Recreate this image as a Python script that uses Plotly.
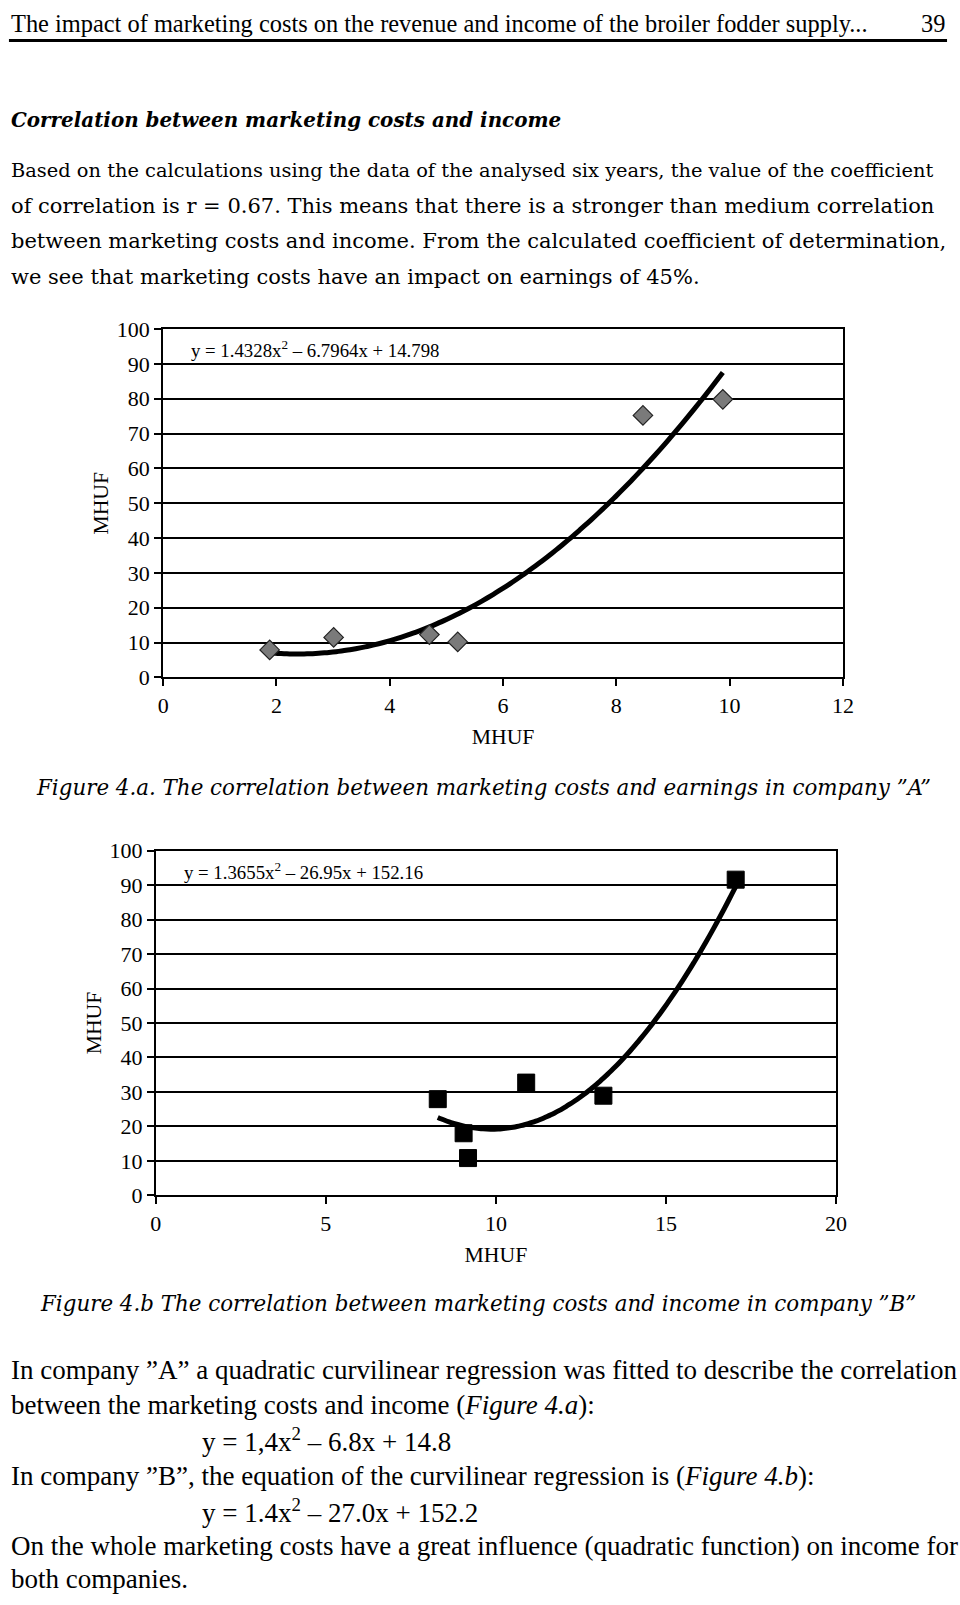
import numpy as np
import plotly.graph_objects as go

W, H = 960, 1605
SERIF = "Liberation Serif"
BOOK = "DejaVu Serif"

# ---- data ----
a_cost = [1.88, 3.01, 4.70, 5.20, 8.47, 9.88]
a_income = [7.9, 11.5, 12.3, 10.2, 75.2, 79.8]
a_coef = [1.4328, -6.7964, 14.798]
a_eq = "y = 1.4328x<sup>2</sup> – 6.7964x + 14.798"

b_cost = [8.29, 9.05, 9.18, 10.89, 13.16, 17.05]
b_income = [27.9, 18.0, 10.8, 32.7, 28.9, 91.6]
b_coef = [1.3655, -26.95, 152.16]
b_eq = "y = 1.3655x<sup>2</sup> – 26.95x + 152.16"

a_xticks = [0, 2, 4, 6, 8, 10, 12]
b_xticks = [0, 5, 10, 15, 20]
y_ticks = [0, 10, 20, 30, 40, 50, 60, 70, 80, 90, 100]

header = "The impact of marketing costs on the revenue and income of the broiler fodder supply..."
page_no = "39"
section_title = "Correlation between marketing costs and income"
para1 = [
    "Based on the calculations using the data of the analysed six years, the value of the coefficient",
    "of correlation is r = 0.67. This means that there is a stronger than medium correlation",
    "between marketing costs and income. From the calculated coefficient of determination,",
    "we see that marketing costs have an impact on earnings of 45%.",
]
para1_sizes = [19.4, 21, 21, 21]
cap_a = "Figure 4.a. The correlation between marketing costs and earnings in company ”A”"
cap_b = "Figure 4.b The correlation between marketing costs and income in company ”B”"
para2 = [
    (3, 1379, "In company ”A” a quadratic curvilinear regression was fitted to describe the correlation"),
    (3, 1415, "between the marketing costs and income (<i>Figure 4.a</i>):"),
    (197, 1451, "y = 1,4x<sup>2</sup> – 6.8x + 14.8"),
    (3, 1487, "In company ”B”, the equation of the curvilinear regression is (<i>Figure 4.b</i>):"),
    (197, 1523, "y = 1.4x<sup>2</sup> – 27.0x + 152.2"),
    (3, 1558, "On the whole marketing costs have a great influence (quadratic function) on income for"),
    (3, 1592, "both companies."),
]


def px(x):
    return x / W


def py(y):
    return 1 - y / H


fig = go.Figure()

# chart A
a_line_x = np.linspace(min(a_cost), max(a_cost), 80)
fig.add_trace(go.Scatter(x=a_line_x, y=np.polyval(a_coef, a_line_x), mode="lines",
                         line=dict(color="black", width=5, shape="spline"),
                         xaxis="x", yaxis="y", showlegend=False, hoverinfo="skip"))
fig.add_trace(go.Scatter(x=a_cost, y=a_income, mode="markers",
                         marker=dict(symbol="diamond", size=15, color="#7a7a7a",
                                     line=dict(color="#222222", width=1.2)),
                         xaxis="x", yaxis="y", showlegend=False))

# chart B
b_line_x = np.linspace(min(b_cost), max(b_cost), 80)
fig.add_trace(go.Scatter(x=b_line_x, y=np.polyval(b_coef, b_line_x), mode="lines",
                         line=dict(color="black", width=5, shape="spline"),
                         xaxis="x2", yaxis="y2", showlegend=False, hoverinfo="skip"))
fig.add_trace(go.Scatter(x=b_cost, y=b_income, mode="markers",
                         marker=dict(symbol="square", size=17, color="black",
                                     line=dict(color="black", width=1)),
                         xaxis="x2", yaxis="y2", showlegend=False))

axis_common = dict(showline=True, linecolor="black", linewidth=2, mirror=True,
                   ticks="outside", ticklen=7, tickwidth=2, tickcolor="black",
                   tickfont=dict(family=SERIF, size=22, color="black"),
                   zeroline=False, fixedrange=True)
title_font = dict(family=SERIF, size=21.7, color="black")

fig.update_layout(
    width=W, height=H,
    margin=dict(l=0, r=0, t=0, b=0),
    paper_bgcolor="white", plot_bgcolor="white",
    font=dict(family=SERIF, color="black"),
    xaxis=dict(domain=[px(160), px(852)], range=[0, 12], tickvals=a_xticks,
               showgrid=False, anchor="y",
               title=dict(text="MHUF", font=title_font, standoff=12),
               **axis_common),
    yaxis=dict(domain=[py(676), py(322)], range=[0, 100], tickvals=y_ticks,
               showgrid=True, gridcolor="black", gridwidth=2, anchor="x",
               title=dict(text="MHUF", font=title_font, standoff=2),
               **axis_common),
    xaxis2=dict(domain=[px(152.5), px(845)], range=[0, 20], tickvals=b_xticks,
                showgrid=False, anchor="y2",
                title=dict(text="MHUF", font=title_font, standoff=12),
                **axis_common),
    yaxis2=dict(domain=[py(1202), py(852)], range=[0, 100], tickvals=y_ticks,
                showgrid=True, gridcolor="black", gridwidth=2, anchor="x2",
                title=dict(text="MHUF", font=title_font, standoff=2),
                **axis_common),
)

ann = []


def text(x, y, t, size=22, anchor="left", family=SERIF, style="normal", weight="normal"):
    ann.append(dict(x=px(x), y=py(y), xref="paper", yref="paper", text=t,
                    showarrow=False, xanchor=anchor, yanchor="middle",
                    font=dict(family=family, size=size, color="black",
                              style=style, weight=weight)))


text(3, 12, header, size=24.4)
text(958, 12, page_no, size=24.4, anchor="right")
text(3, 110, section_title, size=19.9, family=BOOK, style="italic", weight="bold")
for i, line in enumerate(para1):
    text(3, 161 + i * 36, line, size=para1_sizes[i], family=BOOK)
text(29, 788, cap_a, size=21.4, family=BOOK, style="italic")
text(33, 1312, cap_b, size=21.4, family=BOOK, style="italic")
for x, y, line in para2:
    text(x, y, line, size=27)

# equations inside charts
text(186, 342, a_eq, size=18.8)
text(179, 873, b_eq, size=18.8)

fig.update_layout(annotations=ann)
fig.add_shape(type="line", xref="paper", yref="paper", x0=px(3), x1=px(958),
              y0=py(29), y1=py(29), line=dict(color="black", width=3))

post = ("document.documentElement.style.margin='0';document.body.style.margin='0';"
        "document.body.style.padding='0';document.body.style.overflow='hidden';")
fig.write_html("out.html", config={"displayModeBar": False}, post_script=post)
